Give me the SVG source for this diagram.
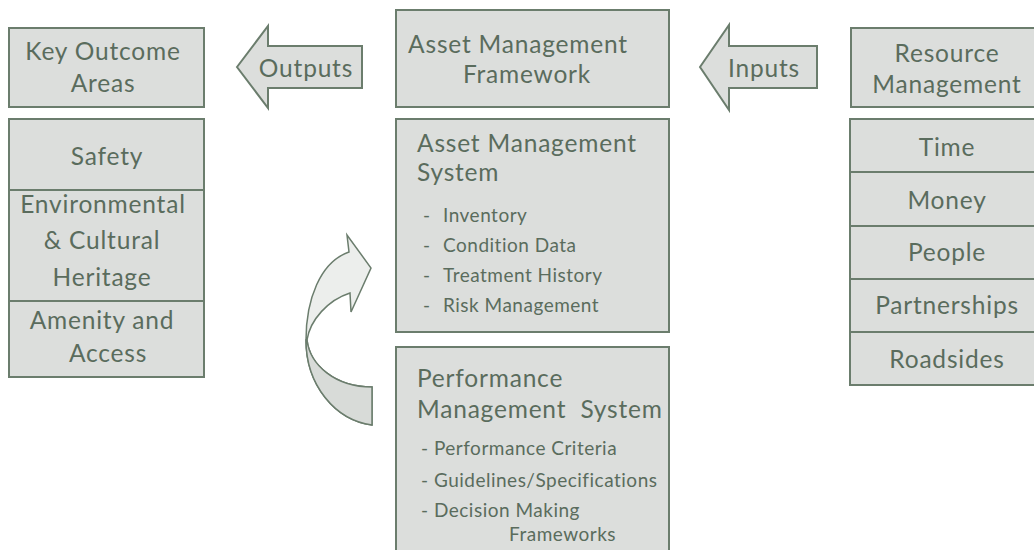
<svg xmlns="http://www.w3.org/2000/svg" width="1034" height="550" viewBox="0 0 1034 550">
<style>
.box{fill:#dcdedc;stroke:#6b7d6d;stroke-width:2}
.div{stroke:#6b7d6d;stroke-width:2}
.arr{fill:#dcdedc;stroke:#6b7d6d;stroke-width:2;stroke-linejoin:miter}
text{font-family:Lato,"Liberation Sans",sans-serif;fill:#5a6c5d}
.h{font-size:24.5px;letter-spacing:0.8px}
.c{text-anchor:middle}
.b{font-size:19px;letter-spacing:0.5px}
</style>
<rect width="1034" height="550" fill="#ffffff"/>
<g id="key-outcome-areas">
<rect class="box" x="9" y="28" width="195" height="79"/>
<text class="h c" x="103" y="60">Key Outcome</text>
<text class="h c" x="103" y="92">Areas</text>
</g>
<g id="outcome-list">
<rect class="box" x="9" y="119" width="195" height="258"/>
<line class="div" x1="9" y1="190" x2="204" y2="190"/>
<line class="div" x1="9" y1="301" x2="204" y2="301"/>
<text class="h c" x="107" y="165">Safety</text>
<text class="h c" x="103" y="213">Environmental</text>
<text class="h c" x="102" y="249">&amp; Cultural</text>
<text class="h c" x="102" y="286">Heritage</text>
<text class="h c" x="102" y="329">Amenity and</text>
<text class="h c" x="108" y="362">Access</text>
</g>
<g id="asset-management-framework">
<rect class="box" x="396" y="10" width="273" height="97"/>
<text class="h c" x="518" y="53">Asset Management</text>
<text class="h c" x="527" y="83">Framework</text>
</g>
<g id="asset-management-system">
<rect class="box" x="396" y="119" width="273" height="213"/>
<text class="h" x="417" y="152">Asset Management</text>
<text class="h" x="417" y="181">System</text>
<text class="b" x="423" y="222">-</text><text class="b" x="443" y="222">Inventory</text>
<text class="b" x="423" y="252">-</text><text class="b" x="443" y="252">Condition Data</text>
<text class="b" x="423" y="282">-</text><text class="b" x="443" y="282">Treatment History</text>
<text class="b" x="423" y="312">-</text><text class="b" x="443" y="312">Risk Management</text>
</g>
<g id="performance-management-system">
<rect class="box" x="396" y="347" width="273" height="215"/>
<text class="h" x="417" y="387">Performance</text>
<text class="h" x="417" y="418" xml:space="preserve">Management  System</text>
<text class="b" x="421" y="455">- Performance Criteria</text>
<text class="b" x="421" y="487">- Guidelines/Specifications</text>
<text class="b" x="421" y="517">- Decision Making</text>
<text class="b" x="509" y="541">Frameworks</text>
</g>
<g id="resource-management">
<rect class="box" x="851" y="28" width="200" height="79"/>
<text class="h c" x="947" y="62">Resource</text>
<text class="h c" x="947" y="93">Management</text>
</g>
<g id="resource-list">
<rect class="box" x="850" y="119" width="200" height="266"/>
<line class="div" x1="850" y1="172" x2="1050" y2="172"/>
<line class="div" x1="850" y1="226" x2="1050" y2="226"/>
<line class="div" x1="850" y1="279" x2="1050" y2="279"/>
<line class="div" x1="850" y1="332" x2="1050" y2="332"/>
<text class="h c" x="947" y="156">Time</text>
<text class="h c" x="947" y="209">Money</text>
<text class="h c" x="947" y="261">People</text>
<text class="h c" x="947" y="314">Partnerships</text>
<text class="h c" x="947" y="368">Roadsides</text>
</g>
<g id="connectors">
<g id="outputs-arrow">
<polygon class="arr" points="237,67 268,26 268,46 362,46 362,88 268,88 268,108"/>
<text class="h c" x="306" y="77">Outputs</text>
</g>
<g id="inputs-arrow">
<polygon class="arr" points="700,67 729,25 729,46 817,46 817,88 729,88 729,110"/>
<text class="h c" x="764" y="77">Inputs</text>
</g>
<g id="feedback-arrow">
<path d="M372,425 C335,420 306,385 306,340 C306,300 320,262 349,252 L347,235 L371,268 L351,312 L350,293 C328,300 310,320 307,340 C310,365 335,387 372,387 Z" fill="#eceeec" stroke="#6b7d6d" stroke-width="1.5" stroke-linejoin="miter"/>
<path d="M306,340 C306,385 335,420 372,425 L372,387 C335,387 310,365 307,340 Z" fill="#d8dbd8" stroke="#6b7d6d" stroke-width="1.5"/>
</g>
</g>
</svg>
